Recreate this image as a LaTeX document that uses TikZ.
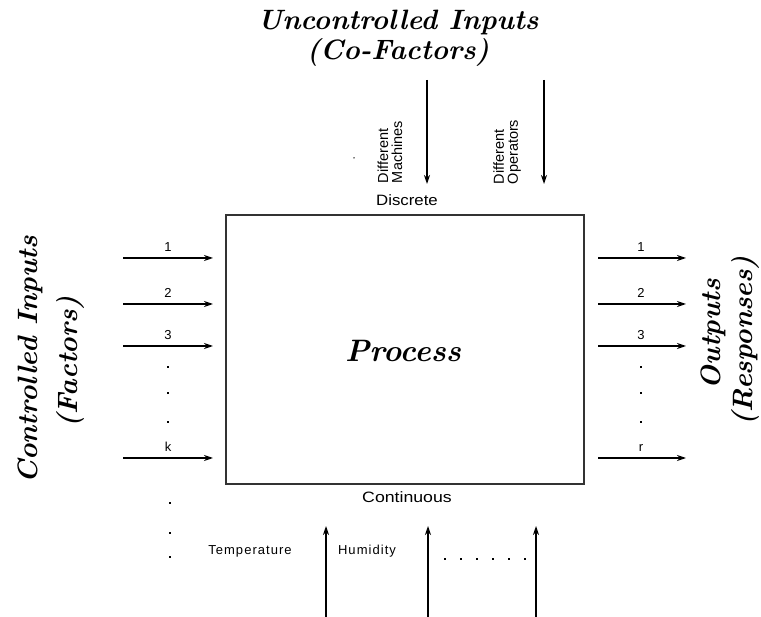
\documentclass[tikz,border=0pt]{standalone}
\usepackage{fontspec}
\newfontfamily\smallsans{Liberation Sans}
\usetikzlibrary{arrows.meta}
\tikzset{
  arr/.style={line width=1.2pt, -{Stealth[length=9pt,width=6pt,inset=3pt]}},
  procbox/.style={draw=black!80, line width=2pt, fill=none},
  title/.style={font=\fontsize{28}{32}\selectfont\bfseries\itshape, text=black, inner sep=0pt, anchor=base},
  lbl/.style={font=\smallsans\fontsize{13}{15}\selectfont, inner sep=0pt},
  numlbl/.style={font=\smallsans\fontsize{13}{15}\selectfont, inner sep=0pt},
  dotmark/.style={fill=black, inner sep=0pt, minimum size=1.4pt},
}
\begin{document}
\begin{tikzpicture}[x=1pt,y=-1pt]
\useasboundingbox (0,0) rectangle (761,617);
% process box
\node[procbox, minimum width=358pt, minimum height=269pt, inner sep=0pt] (box) at (405,349.5) {};
\node[title, font=\fontsize{31}{34}\selectfont\bfseries\itshape] (proc) at (403,362) {Process};
% titles
\node[title] (t1) at (398,30) {Uncontrolled Inputs};
\node[title] (t2) at (398,60) {(Co-Factors)};
\node[title, rotate=90] (cl1) at (37,360) {Controlled Inputs};
\node[title, rotate=90] (cl2) at (77,362) {(Factors)};
\node[title, rotate=90] (o1) at (720,334) {Outputs};
\node[title, rotate=90] (o2) at (752,341) {(Responses)};
% discrete / continuous
\node[lbl, font=\smallsans\fontsize{15}{17}\selectfont, xscale=1.12] (disc) at (407,200) {Discrete};
\node[lbl, font=\smallsans\fontsize{15}{17}\selectfont, xscale=1.18] (cont) at (407,497) {Continuous};
% top inputs
\coordinate (m0) at (427,80); \coordinate (m1) at (427,184);
\coordinate (p0) at (544,80); \coordinate (p1) at (544,184);
\draw[arr] (m0) -- (m1);
\draw[arr] (p0) -- (p1);
\node[lbl, rotate=90, align=left, font=\smallsans\fontsize{14.5}{14}\selectfont] (mach) at (390,152) {Different\\Machines};
\node[lbl, rotate=90, align=left, font=\smallsans\fontsize{14.5}{14}\selectfont] (oper) at (507,152) {Different\\Operators};
\node[circle, fill=black, inner sep=0pt, minimum size=1.5pt] (sd1) at (354,158) {};
% left and right inputs/outputs
\foreach \y/\t/\n in {258/1/a, 304/2/b, 346/3/c, 458/k/d} {
  \coordinate (ls\n) at (123,\y);
  \coordinate (le\n) at (213,\y);
  \draw[arr] (ls\n) -- (le\n);
  \node[numlbl, anchor=base] (ln\n) at (168,\y-6) {\t};
  \coordinate (rs\n) at (598,\y);
  \coordinate (re\n) at (686,\y);
  \draw[arr] (rs\n) -- (re\n);
}
\node[numlbl, anchor=base] (rna) at (641,252) {1};
\node[numlbl, anchor=base] (rnb) at (641,298) {2};
\node[numlbl, anchor=base] (rnc) at (641,340) {3};
\node[numlbl, anchor=base] (rnd) at (641,452) {r};
\foreach \y/\n in {367/a, 393/b, 422/c} {
  \node[dotmark] (ld\n) at (168,\y) {};
  \node[dotmark] (rd\n) at (641,\y) {};
}
\foreach \y/\n in {503/a, 533/b, 557/c} {
  \node[dotmark] (bd\n) at (170,\y) {};
}
% bottom inputs
\coordinate (u1s) at (326,617); \coordinate (u1e) at (326,526);
\coordinate (u2s) at (428,617); \coordinate (u2e) at (428,526);
\coordinate (u3s) at (536,617); \coordinate (u3e) at (536,526);
\draw[arr] (u1s) -- (u1e);
\draw[arr] (u2s) -- (u2e);
\draw[arr] (u3s) -- (u3e);
\node[lbl, font=\smallsans\fontsize{13}{15}\selectfont\addfontfeature{LetterSpace=8}] (temp) at (250,551) {Temperature};
\node[lbl, font=\smallsans\fontsize{13}{15}\selectfont\addfontfeature{LetterSpace=8}] (hum) at (367,551) {Humidity};
\foreach \x/\n in {445/a,461/b,477/c,493/d,509/e,525/f} {
  \node[dotmark] (hd\n) at (\x,559) {};
}
\end{tikzpicture}
\end{document}
